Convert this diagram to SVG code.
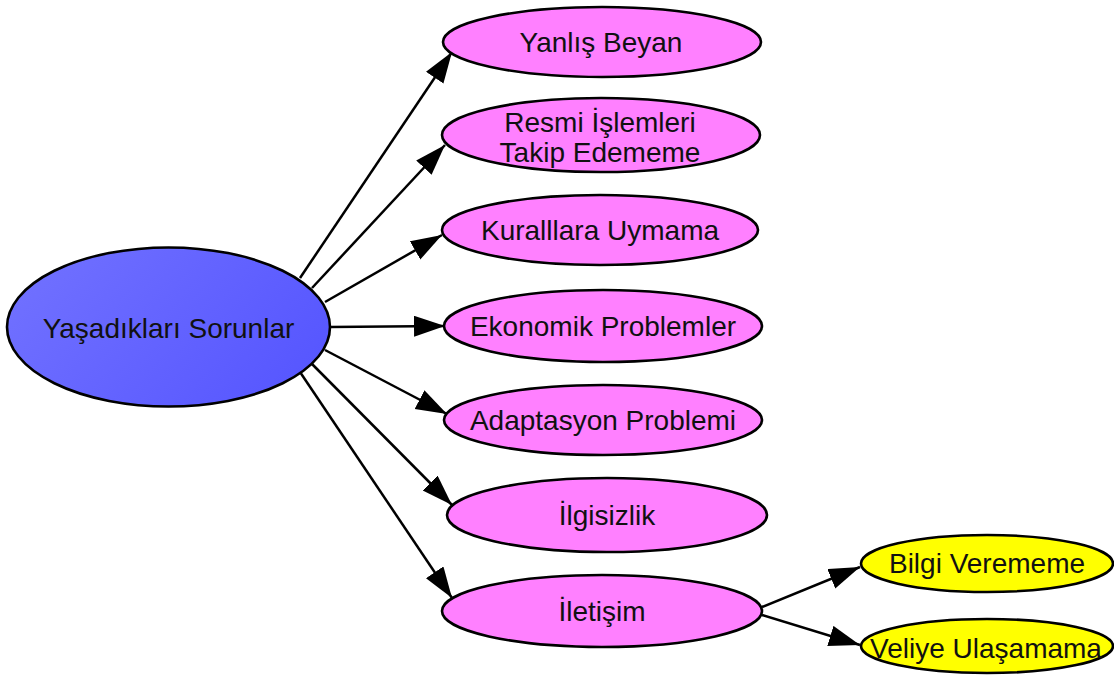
<svg xmlns="http://www.w3.org/2000/svg" width="1114" height="676" viewBox="0 0 1114 676">
<style>
  .node ellipse { stroke: #000; stroke-width: 2.6; }
  .pink { fill: #ff80ff; }
  .yellow { fill: #ffff00; }
  .label { font-family: "Liberation Sans", Arial, sans-serif; font-size: 28px; fill: #111; text-anchor: middle; }
  .edge { stroke: #000; stroke-width: 2.5; fill: none; marker-end: url(#arrow); }
</style>
<defs>
  <linearGradient id="blueGrad" x1="0" y1="0.3" x2="1" y2="0.7">
    <stop offset="0" stop-color="#7070ff"/>
    <stop offset="1" stop-color="#5656ff"/>
  </linearGradient>
  <marker id="arrow" markerUnits="userSpaceOnUse" markerWidth="34" markerHeight="22" refX="31" refY="10.5" orient="auto">
    <path d="M0,0 L31,10.5 L0,21 Z" fill="#000"/>
  </marker>
</defs>
<rect width="1114" height="676" fill="#fff"/>
<g id="edges">
  <line class="edge" x1="300" y1="278" x2="452" y2="52"/>
  <line class="edge" x1="312" y1="288" x2="445" y2="145"/>
  <line class="edge" x1="325" y1="302" x2="442" y2="235"/>
  <line class="edge" x1="330" y1="327" x2="445" y2="326"/>
  <line class="edge" x1="325" y1="350" x2="447" y2="414"/>
  <line class="edge" x1="312" y1="364" x2="452" y2="505"/>
  <line class="edge" x1="300" y1="372" x2="452" y2="598"/>
  <line class="edge" x1="762" y1="607" x2="860" y2="567"/>
  <line class="edge" x1="762" y1="615" x2="860" y2="645"/>
</g>
<g id="node-root" class="node">
  <ellipse cx="168.5" cy="327" rx="161.5" ry="79.5" fill="url(#blueGrad)"/>
  <text class="label" x="168.5" y="338">Yaşadıkları Sorunlar</text>
</g>
<g id="node-yanlis" class="node">
  <ellipse class="pink" cx="602" cy="42" rx="159" ry="35"/>
  <text class="label" x="601" y="52">Yanlış Beyan</text>
</g>
<g id="node-resmi" class="node">
  <ellipse class="pink" cx="601" cy="135" rx="159" ry="37"/>
  <text class="label" x="600" y="132">Resmi İşlemleri</text>
  <text class="label" x="600" y="162">Takip Edememe</text>
</g>
<g id="node-kurallara" class="node">
  <ellipse class="pink" cx="600" cy="230" rx="158" ry="35"/>
  <text class="label" x="600" y="240">Kuralllara Uymama</text>
</g>
<g id="node-ekonomik" class="node">
  <ellipse class="pink" cx="603" cy="326" rx="159" ry="36"/>
  <text class="label" x="603" y="336">Ekonomik Problemler</text>
</g>
<g id="node-adaptasyon" class="node">
  <ellipse class="pink" cx="603" cy="420" rx="159" ry="35"/>
  <text class="label" x="603" y="430">Adaptasyon Problemi</text>
</g>
<g id="node-ilgisizlik" class="node">
  <ellipse class="pink" cx="607" cy="515" rx="160" ry="37"/>
  <text class="label" x="607" y="525">İlgisizlik</text>
</g>
<g id="node-iletisim" class="node">
  <ellipse class="pink" cx="602" cy="611" rx="160" ry="36"/>
  <text class="label" x="602" y="621">İletişim</text>
</g>
<g id="node-bilgi" class="node">
  <ellipse class="yellow" cx="987" cy="563.5" rx="126" ry="28.5"/>
  <text class="label" x="987" y="573">Bilgi Verememe</text>
</g>
<g id="node-veliye" class="node">
  <ellipse class="yellow" cx="987" cy="646" rx="126" ry="27"/>
  <text class="label" x="986" y="658">Veliye Ulaşamama</text>
</g>
</svg>
